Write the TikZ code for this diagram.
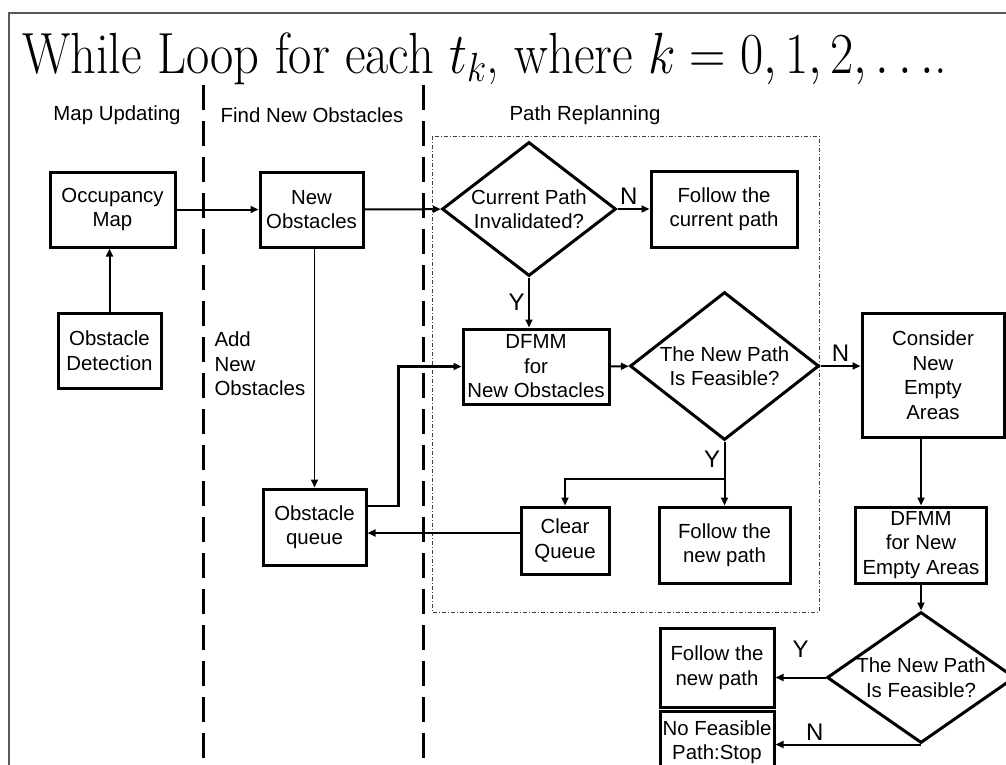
\RequirePackage{fix-cm}
\documentclass[tikz,border=0pt]{standalone}
\usepackage{fontspec}
\setsansfont{Liberation Sans}
\usetikzlibrary{shapes.geometric,arrows.meta}
\newcommand{\boxfont}{\sffamily\fontsize{20.4}{24.5}\selectfont}

\begin{document}
\begin{tikzpicture}[x=1pt,y=-1pt,
        every node/.style={font=\boxfont},
        box/.style={draw, line width=3pt, align=center, inner sep=1pt},
        decision/.style={draw, diamond, line width=3pt, inner sep=0pt},
        arr/.style={-{Triangle[length=8pt,width=7pt]}, line width=2pt},
        yn/.style={font=\sffamily\fontsize{24}{24}\selectfont}]
        \useasboundingbox (0,0) rectangle (1006,764);
        %\draw[help lines] (0,0) grid[step=50] (1006,764);
        \draw[gray!70!black, line width=1.5pt] (9,13) rectangle (1100,900);

        \node[font=\fontsize{50.5}{50.5}\selectfont, anchor=base west, inner sep=0pt] (title) at (22,73)
            {\scalebox{1}[1.15]{While Loop for each $t_k$, where $k=0,1,2,\ldots$.}};

        \node (hmap) at (117,115) {Map Updating};
        \node (hfind) at (312,115) {Find New Obstacles};
        \node (hplan) at (585,115) {Path Replanning};
        \draw[line width=3pt, dash pattern=on 25pt off 11pt] (203,85) -- (203,770);
        \draw[line width=3pt, dash pattern=on 25pt off 11pt] (423,85) -- (423,770);
        \draw[black!75, line width=0.8pt, dash pattern=on 4pt off 2pt on 1pt off 2pt] (432,136) rectangle (819,612);

        \node[box, minimum width=125, minimum height=75] (occ) at (112.5,209.5) {Occupancy\\Map};
        \node[box, minimum width=103, minimum height=75] (det) at (109.5,350.5) {Obstacle\\Detection};
        \node[box, minimum width=103, minimum height=75] (newobs) at (311.5,209.5) {New\\Obstacles};
        \node[anchor=west, align=left] (addlbl) at (211,364) {Add\\New\\Obstacles};
        \node[box, minimum width=103, minimum height=76] (obsq) at (314.5,527) {Obstacle\\queue};

        \node[decision, minimum width=174, minimum height=134] (cur) at (529,209) {};
        \node[align=center] (curtxt) at (cur) {Current Path\\Invalidated?};
        \node[box, minimum width=146, minimum height=76] (follow1) at (724,209) {Follow the\\current path};
        \node[box, minimum width=146, minimum height=75] (dfmm1) at (536,366.5) {DFMM\\for\\New Obstacles};
        \node[decision, minimum width=189, minimum height=148] (feas1) at (724.5,366) {};
        \node[align=center] (feas1txt) at (feas1) {The New Path\\Is Feasible?};
        \node[box, minimum width=88, minimum height=67] (clear) at (565,540.5) {Clear\\Queue};
        \node[box, minimum width=131, minimum height=76] (follow2) at (724.5,545) {Follow the\\new path};

        \node[box, minimum width=142, minimum height=124] (consider) at (933,375) {Consider\\New\\Empty\\Areas};
        \node[box, minimum width=131, minimum height=76] (dfmm2) at (921,545) {DFMM\\for New\\Empty Areas};
        \node[decision, minimum width=188, minimum height=131] (feas2) at (921,677.5) {};
        \node[align=center] (feas2txt) at (feas2) {The New Path\\Is Feasible?};
        \node[box, minimum width=114, minimum height=79] (follow3) at (717,667.5) {Follow the\\new path};
        \node[box, minimum width=114, minimum height=62] (nofeas) at (717,742) {No Feasible\\Path:Stop};

        \draw[arr] (det) -- (det |- occ.south);
        \draw[arr] (occ) -- (newobs);
        \draw[arr] (newobs) -- (cur);
        \draw[arr, line width=1.5pt] (obsq |- newobs.south) -- (obsq);
        \draw[arr, line width=2.6pt] ([yshift=21pt]obsq.east) -- ++(31,0) |- (dfmm1);
        \draw[arr] (cur) -- node[yn, above, pos=0.35] (n1) {N} (follow1);
        \draw[arr] (cur) -- node[yn, left, pos=0.5] (y1) {Y} (cur |- dfmm1.north);
        \draw[arr] (dfmm1) -- (feas1);
        \draw[arr, line width=2.8pt] (feas1) -- node[yn, above, pos=0.5] (n2) {N} (feas1 -| consider.west);
        \draw[arr] (feas1) -- node[yn, left, pos=0.28] (y2) {Y} (feas1 |- follow2.north);
        \coordinate (fork) at (724.5,479);
        \draw[arr] (fork) -| (clear);
        \draw[arr, line width=2.4pt] ([yshift=7.5pt]clear.west) -- ([yshift=7.5pt]clear.west -| obsq.east);

        \draw[arr] (dfmm2 |- consider.south) -- (dfmm2);
        \draw[arr] (dfmm2) -- (feas2);
        \draw[arr] (feas2) -- node[yn, above=16pt, pos=0.5] (y3) {Y} (feas2 -| follow3.east);
        \draw[arr] (feas2.south) -- node[yn, above, pos=0.73] (n3) {N} (feas2.south -| nofeas.east);
    \end{tikzpicture}
\end{document}
